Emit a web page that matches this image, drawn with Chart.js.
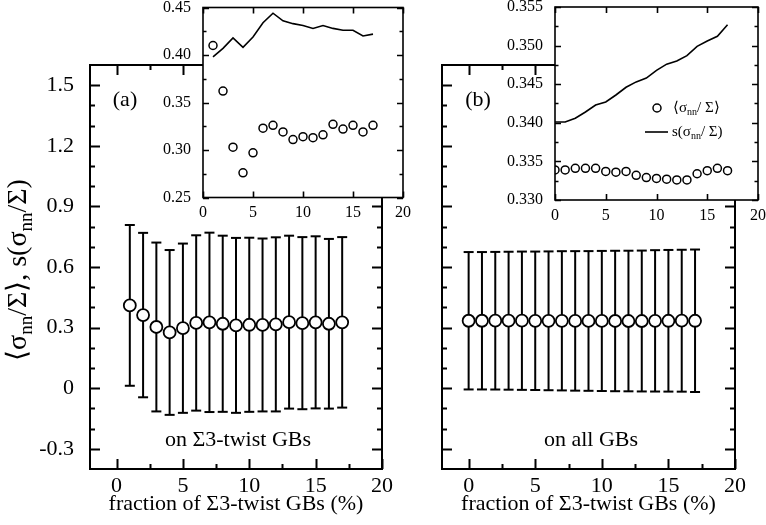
<!DOCTYPE html>
<html>
<head>
<meta charset="utf-8">
<script src="https://cdn.jsdelivr.net/npm/chart.js@4.4.1/dist/chart.umd.min.js"></script>
<style>
  html, body { margin: 0; padding: 0; background: #fff; }
  #wrap { position: relative; width: 766px; height: 525px; }
  #wrap canvas { position: absolute; left: 0; top: 0; }
</style>
</head>
<body>
<div id="wrap">
  <canvas id="mainA" width="766" height="525"></canvas>
  <canvas id="mainB" width="766" height="525"></canvas>
  <canvas id="insetA" width="766" height="525"></canvas>
  <canvas id="insetB" width="766" height="525"></canvas>
</div>
<script>
// Normal stress on Σ3-twist GBs (a) and on all GBs (b) vs. Σ3-twist fraction
const fracA = [1, 2, 3, 4, 5, 6, 7, 8, 9, 10, 11, 12, 13, 14, 15, 16, 17];
const meanA = [0.410, 0.362, 0.303, 0.276, 0.297, 0.323, 0.326, 0.319, 0.311, 0.314,
               0.313, 0.316, 0.327, 0.322, 0.326, 0.319, 0.326];
const sdA = [0.398, 0.407, 0.418, 0.408, 0.419, 0.434, 0.444, 0.436, 0.433, 0.431,
             0.428, 0.431, 0.428, 0.426, 0.426, 0.420, 0.422];

const fracB = [0, 1, 2, 3, 4, 5, 6, 7, 8, 9, 10, 11, 12, 13, 14, 15, 16, 17];
const meanB = [0.3339, 0.3339, 0.3341, 0.3341, 0.3341, 0.3337, 0.3336, 0.3337, 0.3332, 0.3329,
               0.3328, 0.3327, 0.3326, 0.3326, 0.3334, 0.3338, 0.3341, 0.3338];
const sdB = [0.3401, 0.3401, 0.3406, 0.3414, 0.3423, 0.3427, 0.3436, 0.3446, 0.3453, 0.3458,
             0.3468, 0.3476, 0.3480, 0.3487, 0.3499, 0.3506, 0.3512, 0.3527];

// tick labels
const xTicks = [0, 5, 10, 15, 20];
const mainYTicks = [-0.3, 0, 0.3, 0.6, 0.9, 1.2, 1.5];
const insetAYTicks = [0.25, 0.30, 0.35, 0.40, 0.45];
const insetBYTicks = [0.330, 0.335, 0.340, 0.345, 0.350, 0.355];

const SERIF = 'Liberation Serif, Times New Roman, serif';
Chart.defaults.color = '#000';
Chart.defaults.font.family = SERIF;

// closed frame with inward major/minor ticks on all four sides
const framePlugin = {
    id: 'frame',
    beforeDraw(chart, args, opts) {
        if (!opts.fill) return;
        const a = chart.chartArea;
        const ctx = chart.ctx;
        ctx.save();
        ctx.fillStyle = '#fff';
        ctx.fillRect(a.left, a.top, a.right - a.left, a.bottom - a.top);
        ctx.restore();
    },
    afterDraw(chart, args, opts) {
        const a = chart.chartArea;
        const ctx = chart.ctx;
        const xs = chart.scales.x, ys = chart.scales.y;
        const minors = (scale, step) => {
            const out = [];
            if (!step) return out;
            const majors = scale.ticks.map(t => t.value);
            const start = Math.ceil(scale.min / step - 1e-9);
            const end = Math.floor(scale.max / step + 1e-9);
            for (let i = start; i <= end; i++) {
                const v = i * step;
                if (Math.abs(v - scale.min) < 1e-9 || Math.abs(v - scale.max) < 1e-9) continue;
                if (majors.some(m => Math.abs(m - v) < step / 10)) continue;
                out.push(v);
            }
            return out;
        };
        ctx.save();
        ctx.strokeStyle = '#000';
        ctx.lineWidth = opts.lineWidth;
        ctx.beginPath();
        const tickX = (v, len) => {
            const p = Math.round(xs.getPixelForValue(v)) + 0.5;
            ctx.moveTo(p, a.bottom); ctx.lineTo(p, a.bottom - len);
            ctx.moveTo(p, a.top); ctx.lineTo(p, a.top + len);
        };
        const tickY = (v, len) => {
            const p = Math.round(ys.getPixelForValue(v)) + 0.5;
            ctx.moveTo(a.left, p); ctx.lineTo(a.left + len, p);
            ctx.moveTo(a.right, p); ctx.lineTo(a.right - len, p);
        };
        xs.ticks.forEach(t => tickX(t.value, opts.major));
        minors(xs, opts.xMinor).forEach(v => tickX(v, opts.minor));
        ys.ticks.forEach(t => tickY(t.value, opts.major));
        minors(ys, opts.yMinor).forEach(v => tickY(v, opts.minor));
        ctx.stroke();
        ctx.strokeRect(a.left, a.top, a.right - a.left, a.bottom - a.top);
        ctx.restore();
    }
};

// text pieces with subscripts, e.g. [['σ'], ['nn', true]]
function drawRich(ctx, parts, x, y, size, align) {
    const subSize = Math.round(size * 0.68);
    let w = 0;
    parts.forEach(([t, sub]) => {
        ctx.font = (sub ? subSize : size) + 'px ' + SERIF;
        w += ctx.measureText(t).width;
    });
    let cx = align === 'center' ? x - w / 2 : x;
    ctx.textAlign = 'left';
    ctx.textBaseline = 'middle';
    parts.forEach(([t, sub]) => {
        ctx.font = (sub ? subSize : size) + 'px ' + SERIF;
        ctx.fillText(t, cx, sub ? y + size * 0.3 : y);
        cx += ctx.measureText(t).width;
    });
}

const notesPlugin = {
    id: 'notes',
    afterDraw(chart, args, opts) {
        const ctx = chart.ctx;
        ctx.save();
        ctx.fillStyle = '#000';
        (opts.items || []).forEach(it => {
            ctx.save();
            ctx.translate(it.x, it.y);
            if (it.rotate) ctx.rotate(it.rotate);
            drawRich(ctx, it.parts, 0, 0, it.size, it.align || 'center');
            ctx.restore();
        });
        if (opts.legend) opts.legend(ctx);
        ctx.restore();
    }
};

function fixedAxis(size, horizontal) {
    return (s) => {
        if (horizontal) s.height = size; else s.width = size;
        s.paddingTop = 0; s.paddingBottom = 0;
        s.paddingLeft = 0; s.paddingRight = 0;
    };
}

function setTicks(values) {
    return (s) => { s.ticks = values.map(v => ({ value: v })); };
}

function buildMain(id, xs, means, sds, area, notes, showY) {
    const circles = xs.map((x, i) => ({ x, y: means[i] }));
    const stems = [];
    const caps = [];
    xs.forEach((x, i) => {
        const lo = means[i] - sds[i];
        const hi = means[i] + sds[i];
        stems.push({ x, y: lo }, { x, y: hi }, { x, y: null });
        caps.push({ x, y: lo }, { x, y: hi });
    });
    return new Chart(document.getElementById(id), {
        type: 'scatter',
        data: {
            datasets: [
                { data: circles, pointRadius: 6, borderWidth: 1.8, borderColor: '#000', backgroundColor: '#fff' },
                { type: 'line', data: stems, borderColor: '#000', borderWidth: 2, pointRadius: 0, spanGaps: false },
                { data: caps, pointStyle: 'line', pointRadius: 5, borderWidth: 2, borderColor: '#000' }
            ]
        },
        options: {
            responsive: false,
            animation: false,
            events: [],
            layout: { padding: { left: 0, top: area.top, right: 766 - area.right, bottom: 0 } },
            plugins: {
                legend: { display: false },
                tooltip: { enabled: false },
                frame: { lineWidth: 2, major: 10, minor: 5, xMinor: 2.5, yMinor: 0.1 },
                notes: { items: notes }
            },
            scales: {
                x: {
                    type: 'linear', min: -2, max: 20,
                    afterFit: fixedAxis(525 - area.bottom, true),
                    afterBuildTicks: setTicks(xTicks),
                    grid: { display: false }, border: { display: false },
                    ticks: { font: { size: 22 }, padding: -4, maxRotation: 0, autoSkip: false, callback: v => String(v) },
                    title: { display: true, text: 'fraction of Σ3-twist GBs (%)', font: { size: 22 }, padding: { top: 0, bottom: 8 } }
                },
                y: {
                    type: 'linear', min: -0.4, max: 1.6,
                    afterFit: fixedAxis(area.left, false),
                    afterBuildTicks: setTicks(mainYTicks),
                    grid: { display: false }, border: { display: false },
                    ticks: { display: showY, font: { size: 22 }, padding: 8, callback: v => v === 0 ? '0' : v.toFixed(1) }
                }
            }
        },
        plugins: [framePlugin, notesPlugin]
    });
}

function buildInset(id, xs, means, sds, area, yMin, yMax, yTicks, digits, yMinor, legend) {
    return new Chart(document.getElementById(id), {
        type: 'scatter',
        data: {
            datasets: [
                { data: xs.map((x, i) => ({ x, y: means[i] })), pointRadius: 4, borderWidth: 1.5, borderColor: '#000', backgroundColor: '#fff' },
                { type: 'line', data: xs.map((x, i) => ({ x, y: sds[i] })), borderColor: '#000', borderWidth: 1.6, pointRadius: 0, tension: 0 }
            ]
        },
        options: {
            responsive: false,
            animation: false,
            events: [],
            layout: { padding: { left: 0, top: area.top, right: 766 - area.right, bottom: 0 } },
            plugins: {
                legend: { display: false },
                tooltip: { enabled: false },
                frame: { fill: true, lineWidth: 1.6, major: 6, minor: 3.5, xMinor: 0, yMinor: yMinor },
                notes: { items: [], legend: legend }
            },
            scales: {
                x: {
                    type: 'linear', min: 0, max: 20,
                    afterFit: fixedAxis(525 - area.bottom, true),
                    afterBuildTicks: setTicks(xTicks),
                    grid: { display: false }, border: { display: false },
                    ticks: { font: { size: 16 }, padding: -2, maxRotation: 0, autoSkip: false, callback: v => String(v) }
                },
                y: {
                    type: 'linear', min: yMin, max: yMax,
                    afterFit: fixedAxis(area.left, false),
                    afterBuildTicks: setTicks(yTicks),
                    grid: { display: false }, border: { display: false },
                    ticks: { font: { size: 16 }, padding: 4, callback: v => v.toFixed(digits) }
                }
            }
        },
        plugins: [framePlugin, notesPlugin]
    });
}

const yTitle = [['⟨σ'], ['nn', true], ['/Σ⟩, s(σ'], ['nn', true], ['/Σ)']];

buildMain('mainA', fracA, meanA, sdA, { left: 90, right: 382, top: 65, bottom: 469 }, [
    { parts: [['(a)']], x: 125, y: 100, size: 22 },
    { parts: [['on Σ3-twist GBs']], x: 238, y: 440, size: 22 },
    { parts: yTitle, x: 19, y: 270, size: 28, rotate: -Math.PI / 2 }
], true);

buildMain('mainB', fracB, meanB, sdB, { left: 442, right: 735, top: 65, bottom: 469 }, [
    { parts: [['(b)']], x: 478, y: 100, size: 22 },
    { parts: [['on all GBs']], x: 591, y: 440, size: 22 }
], false);

buildInset('insetA', fracA, meanA, sdA, { left: 203, right: 403, top: 7.5, bottom: 197.5 },
    0.25, 0.45, insetAYTicks, 2, 0.025, null);

// legend for the right inset
function insetLegend(ctx) {
    ctx.strokeStyle = '#000';
    ctx.fillStyle = '#fff';
    ctx.lineWidth = 1.5;
    ctx.beginPath();
    ctx.arc(657, 108, 4, 0, Math.PI * 2);
    ctx.fill();
    ctx.stroke();
    ctx.lineWidth = 1.6;
    ctx.beginPath();
    ctx.moveTo(645, 132);
    ctx.lineTo(668, 132);
    ctx.stroke();
    ctx.fillStyle = '#000';
    drawRich(ctx, [['⟨σ'], ['nn', true], ['/ Σ⟩']], 673, 108, 15, 'left');
    drawRich(ctx, [['s(σ'], ['nn', true], ['/ Σ)']], 672, 132, 15, 'left');
}

buildInset('insetB', fracB, meanB, sdB, { left: 555, right: 758, top: 7, bottom: 200 },
    0.330, 0.355, insetBYTicks, 3, 0.0025, insetLegend);
</script>
</body>
</html>
